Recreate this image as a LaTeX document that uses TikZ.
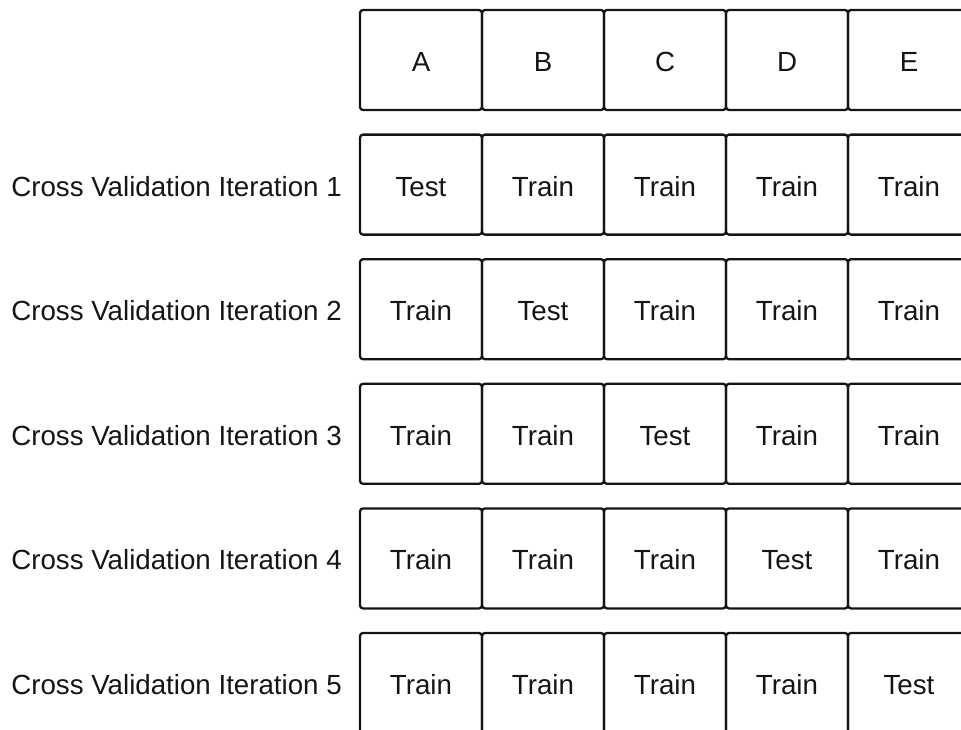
\documentclass[tikz,border=0pt]{standalone}
\usepackage{fontspec}
\setmainfont{Liberation Sans}
\definecolor{ink}{HTML}{151515}
\begin{document}
\begin{tikzpicture}[x=1pt,y=-1pt,
  txt/.style={font=\fontsize{27.7}{30}\selectfont,text=ink,text height=19.8pt,text depth=0pt},
  cell/.style={txt,draw=ink,line width=2.3pt,rounded corners=3pt,minimum width=122pt,minimum height=100pt,inner sep=0pt},
  textonly/.style={txt,inner sep=0pt,yshift=-1.5pt},
  rowlabel/.style={txt,anchor=east,inner sep=0pt,yshift=-1.5pt}]
\useasboundingbox (0,0) rectangle (961,729);
\clip (0,0) rectangle (961,729);
\foreach \c [count=\i from 0] in {A,B,C,D,E}{
  \node[cell] (h-\c) at ({421+122*\i},60) {};
  \node[textonly] (ht-\c) at (h-\c.center) {\c};
}
\foreach \r in {1,...,5}{
  \pgfmathsetmacro{\yy}{60+124.6*\r}
  \node[rowlabel] (lab-\r) at (342,\yy) {Cross Validation Iteration \r};
  \foreach \c [count=\i from 1] in {A,B,C,D,E}{
    \node[cell] (c-\r-\c) at ({421+122*(\i-1)},\yy) {};
    \ifnum\i=\r
      \node[textonly] (t-\r-\c) at (c-\r-\c.center) {Test};
    \else
      \node[textonly] (t-\r-\c) at (c-\r-\c.center) {Train};
    \fi
  }
}
\end{tikzpicture}
\end{document}
